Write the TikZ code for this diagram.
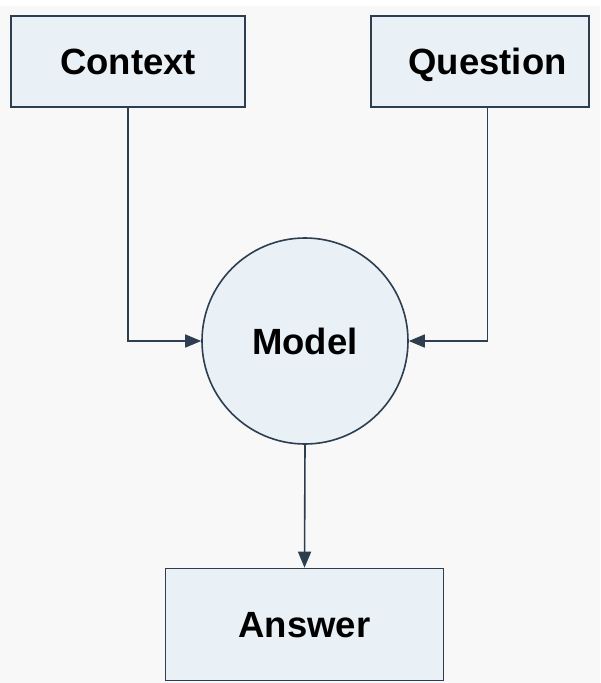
\documentclass[tikz,border=0pt]{standalone}
\usepackage{fontspec}
\setmainfont{Liberation Sans}
\usetikzlibrary{arrows.meta}
\definecolor{boxfill}{HTML}{EAF1F6}
\definecolor{edge}{HTML}{2C3E50}
\definecolor{paper}{HTML}{F8F8F8}
\tikzset{
  block/.style={draw=edge, fill=boxfill, line width=1.6pt, inner sep=0pt,
    text height=26pt, text depth=0pt,
    font=\fontsize{36.5}{40}\selectfont\bfseries},
  flow/.style={draw=edge, line width=1.6pt, -{Triangle[length=16pt,width=13pt]}}
}
\begin{document}
\begin{tikzpicture}[x=1pt,y=-1pt]
  % canvas
  \fill[paper] (0,0) rectangle (600,683);
  \fill[white] (0,0) rectangle (600,6);
  \useasboundingbox (0,0) rectangle (600,683);

  % inputs, model and output
  \node[block, minimum width=234pt, minimum height=91pt] (ctx) at (128,61.5) {Context};
  \node[block, minimum width=218pt, minimum height=91pt] (qst) at (480,61.5) {\hspace*{15pt}Question};
  \node[block, circle, minimum size=206pt] (mdl) at (305,341) {Model};
  \node[block, minimum width=278pt, minimum height=112pt] (ans) at (304.5,624.5) {Answer};
  \coordinate (qout) at ([xshift=7.5pt]qst.south);

  % connectors
  \draw[flow] (ctx.south) |- (mdl.west);
  \draw[flow] (qout) |- (mdl.east);
  \draw[flow] (mdl.south) -- (ans.north);
\end{tikzpicture}
\end{document}
